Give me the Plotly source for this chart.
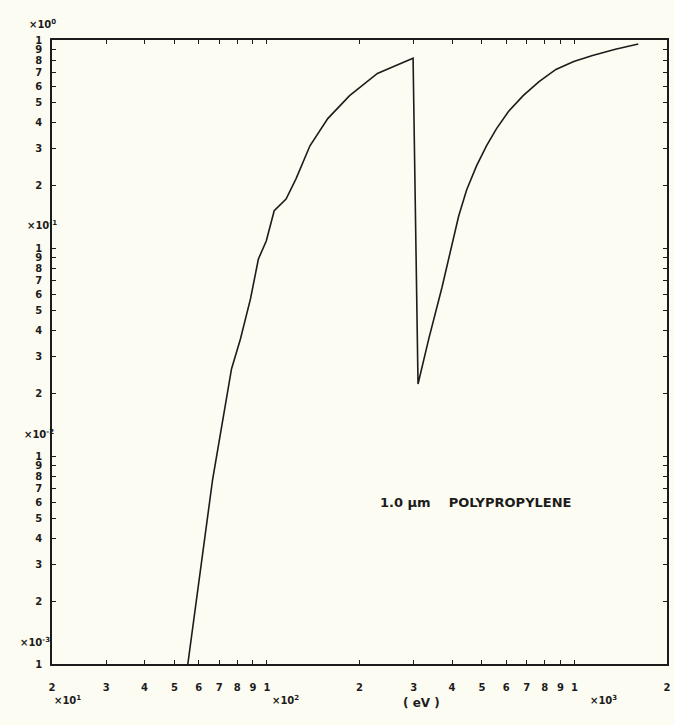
import math
import plotly.graph_objects as go

# Transmission of a 1.0 um polypropylene film vs photon energy
energy_ev = [55.3, 66.6, 76.7, 82.0, 88.4, 93.8, 99.5, 105.6, 115.4, 124.3,
             138.0, 157.7, 185.7, 228.7, 259.4, 298.7,
             310.0, 336.4, 370.5, 420.3, 446.0, 480.4, 517.5, 557.4, 609.3,
             681.1, 767.2, 870.3, 994.8, 1145.0, 1359.0, 1613.0]
transmission = [0.001, 0.00773, 0.0262, 0.0365, 0.0569, 0.0885, 0.108, 0.151,
                0.172, 0.215, 0.310, 0.419, 0.540, 0.691, 0.747, 0.818,
                0.0222, 0.0369, 0.0642, 0.1425, 0.190, 0.248, 0.310, 0.374,
                0.452, 0.540, 0.631, 0.722, 0.788, 0.843, 0.902, 0.956]

# Axis ticks
x_tickvals = [20, 30, 40, 50, 60, 70, 80, 90, 100,
              200, 300, 400, 500, 600, 700, 800, 900, 1000, 2000]
x_ticktext = ["2", "3", "4", "5", "6", "7", "8", "9", "1",
              "2", "3", "4", "5", "6", "7", "8", "9", "1", "2"]
y_tickvals = [m * 10.0 ** e for e in (-3, -2, -1) for m in range(1, 10)] + [1.0]
y_ticktext = [str(m) for e in (-3, -2, -1) for m in range(1, 10)] + ["1"]

# Exponent captions beside the tick labels: (text, energy in eV)
x_exponents = [("×10<sup>1</sup>", 22.5), ("×10<sup>2</sup>", 114.5),
               ("×10<sup>3</sup>", 1243.0)]
x_unit = ("( eV )", 319.0)
# (text, transmission value, horizontal shift in px); the top one sits above the frame
y_top_exponent = ("×10<sup>0</sup>", -25)
y_exponents = [("×10<sup>-1</sup>", 0.129, -27),
               ("×10<sup>-2</sup>", 0.0128, -30), ("×10<sup>-3</sup>", 0.00128, -34)]
film_label = ("1.0 µm    POLYPROPYLENE", 478.0, 0.0060)

ink = "#1c1c1c"
paper = "#fdfcf2"
tick_font = dict(family="DejaVu Sans", size=10, color=ink, weight="bold")
caption_font = dict(family="DejaVu Sans", size=10, color=ink, weight="bold")

fig = go.Figure()
fig.add_trace(go.Scatter(
    x=energy_ev, y=transmission, mode="lines",
    line=dict(color=ink, width=1.6),
    showlegend=False, hoverinfo="skip",
))

fig.update_xaxes(
    type="log", range=[math.log10(20), math.log10(2000)],
    tickmode="array", tickvals=x_tickvals, ticktext=x_ticktext,
    ticks="inside", ticklen=4, tickwidth=1, tickcolor=ink,
    showline=True, linecolor=ink, linewidth=1.6, mirror="ticks",
    showgrid=False, zeroline=False, tickfont=tick_font, ticklabelstandoff=13,
)
fig.update_yaxes(
    type="log", range=[-3, 0],
    tickmode="array", tickvals=y_tickvals, ticktext=y_ticktext,
    ticks="inside", ticklen=4, tickwidth=1, tickcolor=ink,
    showline=True, linecolor=ink, linewidth=1.6, mirror="ticks",
    showgrid=False, zeroline=False, tickfont=tick_font, ticklabelstandoff=6,
)

# Annotations on log axes take log10 coordinates
annotations = []
for text, ev in x_exponents:
    annotations.append(dict(
        x=math.log10(ev), y=0, xref="x", yref="paper", yshift=-44, text=text,
        showarrow=False, font=caption_font,
    ))
annotations.append(dict(
    x=math.log10(x_unit[1]), y=0, xref="x", yref="paper", yshift=-48,
    text=x_unit[0], showarrow=False,
    font=dict(family="DejaVu Sans", size=12, color=ink, weight="bold"),
))
annotations.append(dict(
    x=0, y=1, xref="paper", yref="paper", xshift=y_top_exponent[1], yshift=24,
    text=y_top_exponent[0], showarrow=False, font=caption_font,
))
for text, tv, shift in y_exponents:
    annotations.append(dict(
        x=0, y=math.log10(tv), xref="paper", yref="y", xshift=shift, text=text,
        showarrow=False, font=caption_font,
    ))
annotations.append(dict(
    x=math.log10(film_label[1]), y=math.log10(film_label[2]), xref="x", yref="y",
    text=film_label[0], showarrow=False,
    font=dict(family="DejaVu Sans", size=13, color=ink, weight="bold"),
))

fig.update_layout(
    width=674, height=725,
    margin=dict(l=52, r=3, t=40, b=61),
    paper_bgcolor=paper, plot_bgcolor=paper,
    annotations=annotations,
)

fig.write_html("out.html")
